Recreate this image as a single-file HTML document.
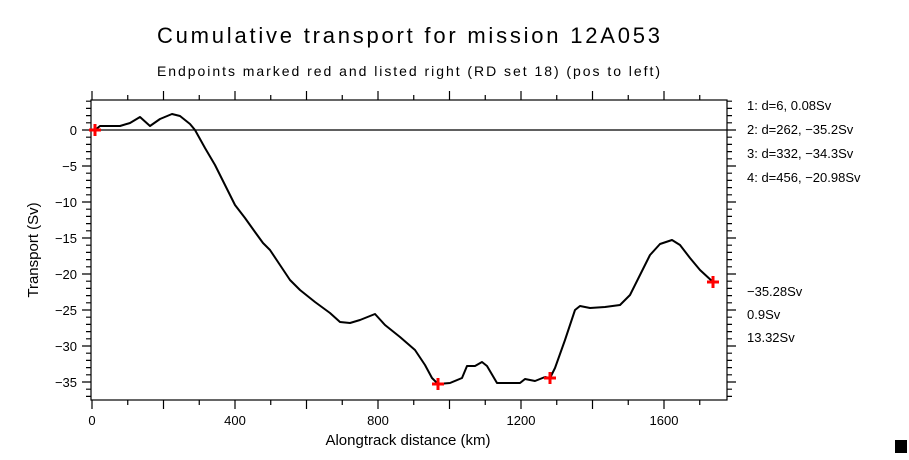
<!DOCTYPE html>
<html><head><style>
body{margin:0;background:#fff;}
svg text{font-family:"Liberation Sans",sans-serif;fill:#000;}
</style></head><body>
<svg width="909" height="455" viewBox="0 0 909 455" xmlns="http://www.w3.org/2000/svg">
<rect width="909" height="455" fill="#fff"/>
<text x="157" y="43" font-size="22" textLength="503" lengthAdjust="spacing">Cumulative transport for mission 12A053</text>
<text x="157" y="76" font-size="14" textLength="503" lengthAdjust="spacing">Endpoints marked red and listed right (RD set 18) (pos to left)</text>
<rect x="91" y="100" width="636" height="300" fill="none" stroke="#000" stroke-width="1.2"/>
<line x1="91" y1="130" x2="727" y2="130" stroke="#000" stroke-width="1.2"/>
<g stroke="#000" stroke-width="1.2" fill="none">
<path d="M92,400v9M163.5,400v9M235,400v9M306.5,400v9M378,400v9M449.5,400v9M521,400v9M592.5,400v9M664,400v9
M127.75,400v5M199.25,400v5M270.75,400v5M342.25,400v5M413.75,400v5M485.25,400v5M556.75,400v5M628.25,400v5M699.75,400v5
M92,100v-9M163.5,100v-9M235,100v-9M306.5,100v-9M378,100v-9M449.5,100v-9M521,100v-9M592.5,100v-9M664,100v-9
M127.75,100v-5M199.25,100v-5M270.75,100v-5M342.25,100v-5M413.75,100v-5M485.25,100v-5M556.75,100v-5M628.25,100v-5M699.75,100v-5"/>
<path d="M82,130h9M82,166h9M82,202h9M82,238h9M82,274h9M82,310h9M82,346h9M82,382h9
M727,130h9M727,166h9M727,202h9M727,238h9M727,274h9M727,310h9M727,346h9M727,382h9"/>
<path d="M86,101.2h5M86,108.4h5M86,115.6h5M86,122.8h5M86,137.2h5M86,144.4h5M86,151.6h5M86,158.8h5M86,173.2h5M86,180.4h5M86,187.6h5M86,194.8h5M86,209.2h5M86,216.4h5M86,223.6h5M86,230.8h5M86,245.2h5M86,252.4h5M86,259.6h5M86,266.8h5M86,281.2h5M86,288.4h5M86,295.6h5M86,302.8h5M86,317.2h5M86,324.4h5M86,331.6h5M86,338.8h5M86,353.2h5M86,360.4h5M86,367.6h5M86,374.8h5M86,389.2h5M86,396.4h5"/>
<path d="M727,101.2h5M727,108.4h5M727,115.6h5M727,122.8h5M727,137.2h5M727,144.4h5M727,151.6h5M727,158.8h5M727,173.2h5M727,180.4h5M727,187.6h5M727,194.8h5M727,209.2h5M727,216.4h5M727,223.6h5M727,230.8h5M727,245.2h5M727,252.4h5M727,259.6h5M727,266.8h5M727,281.2h5M727,288.4h5M727,295.6h5M727,302.8h5M727,317.2h5M727,324.4h5M727,331.6h5M727,338.8h5M727,353.2h5M727,360.4h5M727,367.6h5M727,374.8h5M727,389.2h5M727,396.4h5"/>
</g>
<g font-size="13" text-anchor="end">
<text x="77" y="135">0</text><text x="77" y="171">−5</text><text x="77" y="207">−10</text>
<text x="77" y="243">−15</text><text x="77" y="279">−20</text><text x="77" y="315">−25</text>
<text x="77" y="351">−30</text><text x="77" y="387">−35</text>
</g>
<g font-size="13" text-anchor="middle">
<text x="92" y="425">0</text><text x="235" y="425">400</text><text x="378" y="425">800</text>
<text x="521" y="425">1200</text><text x="664" y="425">1600</text>
</g>
<text x="408" y="445" font-size="15" text-anchor="middle">Alongtrack distance (km)</text>
<text transform="translate(38,250) rotate(-90)" font-size="15" text-anchor="middle">Transport (Sv)</text>
<g font-size="13">
<text x="747" y="110">1: d=6, 0.08Sv</text>
<text x="747" y="134">2: d=262, −35.2Sv</text>
<text x="747" y="158">3: d=332, −34.3Sv</text>
<text x="747" y="182">4: d=456, −20.98Sv</text>
<text x="747" y="296">−35.28Sv</text>
<text x="747" y="319">0.9Sv</text>
<text x="747" y="342">13.32Sv</text>
</g>
<polyline fill="none" stroke="#000" stroke-width="2" stroke-linejoin="round" points="95,130 100,126 120,126 130,123 140,117 150,126 160,119 172,114 180,116 190,124 195,130 205,148 215,165 225,185 235,205 245,218 255,232 263,243 270,250 280,265 290,280 300,290 315,302 330,313 340,322 350,323 360,320 375,314 385,325 400,337 415,350 425,365 432,378 438,384 450,383 462,378 467,366 475,366 482,362 487,366 497,383 505,383 520,383 525,379 535,381 545,377 550,378 555,368 565,340 575,310 580,306 590,308 605,307 620,305 630,295 640,275 650,255 660,244 672,240 680,245 690,258 700,270 713,282"/>
<g stroke="#f00" stroke-width="3">
<path d="M89,130h12M95,124v12"/><path d="M432,384h12M438,378v12"/>
<path d="M544,378h12M550,372v12"/><path d="M707,282h12M713,276v12"/>
</g>
<rect x="895" y="440" width="12" height="13" fill="#000"/>
</svg>
</body></html>
